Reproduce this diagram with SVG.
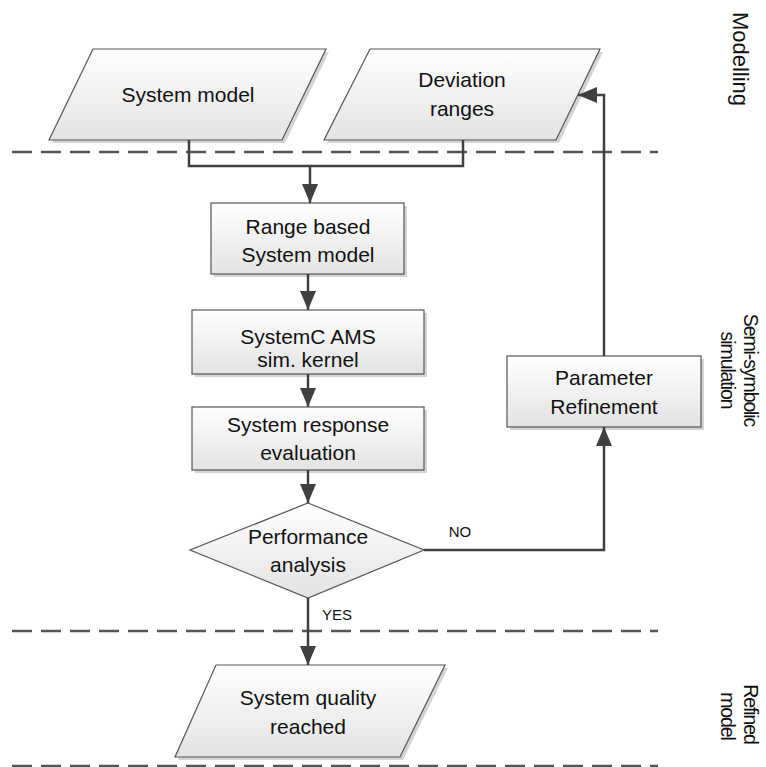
<svg xmlns="http://www.w3.org/2000/svg" width="766" height="767" viewBox="0 0 766 767">
<defs>
<linearGradient id="g" x1="0" y1="0" x2="0" y2="1">
<stop offset="0" stop-color="#ffffff"/>
<stop offset="1" stop-color="#e3e3e3"/>
</linearGradient>
<marker id="ah" markerUnits="userSpaceOnUse" markerWidth="19" markerHeight="18" viewBox="0 0 19 18" refX="19" refY="9" orient="auto">
<path d="M0,1 L19,9 L0,17 Z" fill="#404040"/>
</marker>
<style>
.shape{fill:url(#g);stroke:#555;stroke-width:1.2}
.shadow{fill:#d4d4d4}
.t{font-family:"Liberation Sans",Arial,sans-serif;font-size:21px;fill:#111;text-anchor:middle}
.s{font-family:"Liberation Sans",Arial,sans-serif;font-size:19.5px;letter-spacing:-1.1px;fill:#111;text-anchor:middle}
.m{font-family:"Liberation Sans",Arial,sans-serif;font-size:22px;fill:#111;text-anchor:middle}
.lbl{font-family:"Liberation Sans",Arial,sans-serif;font-size:15px;fill:#111;text-anchor:middle}
.dash{stroke:#555;stroke-width:2.5;stroke-dasharray:20 9;fill:none}
.c{stroke:#404040;stroke-width:2.5;fill:none}
</style>
</defs>
<rect width="766" height="767" fill="#fff"/>
<g id="separators">
<line class="dash" x1="12" y1="152" x2="658" y2="152"/>
<line class="dash" x1="12" y1="631" x2="658" y2="631"/>
<line class="dash" x1="12" y1="766" x2="658" y2="766"/>
</g>
<g id="lane-labels">
<text class="m" transform="translate(733,59) rotate(90)">Modelling</text>
<text class="s" transform="translate(744,370) rotate(90)">Semi-symbolic</text>
<text class="s" transform="translate(721,370) rotate(90)">simulation</text>
<text class="s" transform="translate(744,714) rotate(90)">Refined</text>
<text class="s" transform="translate(721,716) rotate(90)">model</text>
</g>
<g id="system-model">
<polygon class="shadow" points="96,52 329,52 285,143 52,143"/>
<polygon class="shape" points="93,49 326,49 282,140 49,140"/>
<text class="t" x="188" y="102">System model</text>
</g>
<g id="deviation-ranges">
<polygon class="shadow" points="373,52 603,52 559,143 327,143"/>
<polygon class="shape" points="370,49 600,49 556,140 324,140"/>
<text class="t" x="462" y="87">Deviation</text>
<text class="t" x="462" y="116">ranges</text>
</g>
<g id="range-based">
<rect class="shadow" x="214" y="206" width="193" height="71"/>
<rect class="shape" x="211" y="203" width="193" height="71"/>
<text class="t" x="308" y="234">Range based</text>
<text class="t" x="308" y="262">System model</text>
</g>
<g id="systemc-ams">
<rect class="shadow" x="195" y="313" width="232" height="64"/>
<rect class="shape" x="192" y="310" width="232" height="64"/>
<text class="t" x="308" y="344">SystemC AMS</text>
<text class="t" x="308" y="367">sim. kernel</text>
</g>
<g id="system-response">
<rect class="shadow" x="195" y="410" width="232" height="63"/>
<rect class="shape" x="192" y="407" width="232" height="63"/>
<text class="t" x="308" y="432">System response</text>
<text class="t" x="308" y="460">evaluation</text>
</g>
<g id="performance-analysis">
<polygon class="shape" points="308,503 424,550 308,598 190,550"/>
<text class="t" x="308" y="544">Performance</text>
<text class="t" x="308" y="572">analysis</text>
</g>
<g id="parameter-refinement">
<rect class="shadow" x="510" y="359" width="194" height="71"/>
<rect class="shape" x="507" y="356" width="194" height="71"/>
<text class="t" x="604" y="385">Parameter</text>
<text class="t" x="604" y="414">Refinement</text>
</g>
<g id="system-quality">
<polygon class="shadow" points="219,668 448,668 403,760 178,760"/>
<polygon class="shape" points="216,665 445,665 400,757 175,757"/>
<text class="t" x="308" y="705">System quality</text>
<text class="t" x="308" y="734">reached</text>
</g>
<g id="connectors">
<path class="c" d="M189,140 V166 H463 V140"/>
<path class="c" d="M310,166 V203" marker-end="url(#ah)"/>
<path class="c" d="M308,274 V310" marker-end="url(#ah)"/>
<path class="c" d="M308,374 V407" marker-end="url(#ah)"/>
<path class="c" d="M308,470 V503" marker-end="url(#ah)"/>
<path class="c" d="M424,550 H604 V427" marker-end="url(#ah)"/>
<path class="c" d="M604,356 V95 H578" marker-end="url(#ah)"/>
<path class="c" d="M308,598 V665" marker-end="url(#ah)"/>
<text class="lbl" x="460" y="537">NO</text>
<text class="lbl" x="337" y="620">YES</text>
</g>
</svg>
